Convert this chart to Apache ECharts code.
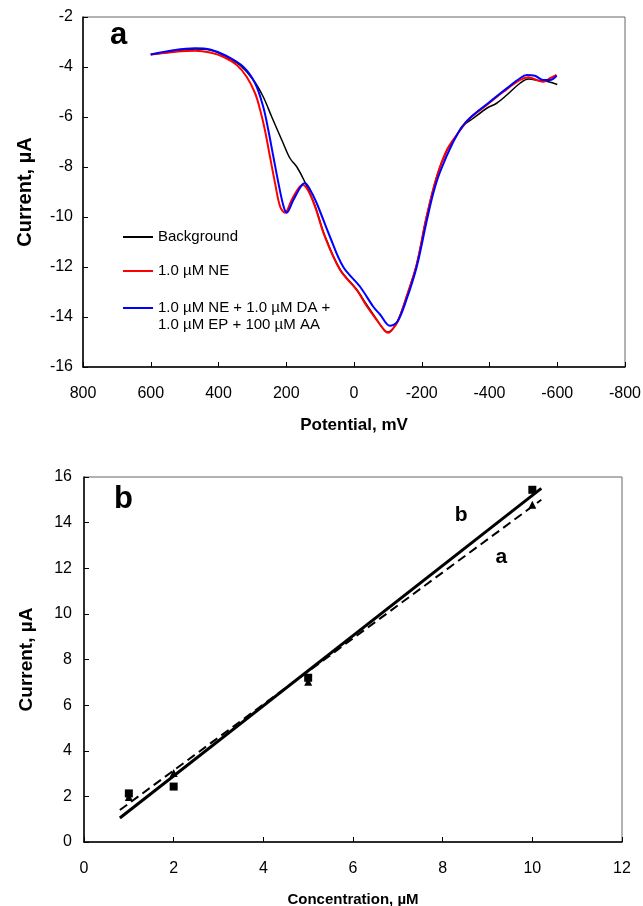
<!DOCTYPE html>
<html>
<head>
<meta charset="utf-8">
<title>NE voltammogram and calibration</title>
<script src="https://cdn.jsdelivr.net/npm/echarts@6.0.0/dist/echarts.min.js"></script>
<style>
	html, body { margin: 0; padding: 0; background: #fff; }
	#chart { width: 643px; height: 906px; }
</style>
</head>
<body>
<div id="chart"></div>
<script>
//////////// 데이터 ////////////
// (a) 전위 (mV) / 전류 (µA)
var bgPotential = [600, 533, 469, 425, 376, 337, 297, 268, 243, 209, 189, 169, 145, 115, 86, 41, -8, -37, -67, -91, -101, -116, -131, -155, -185, -214, -244, -274, -303, -318, -350, -392, -421, -451, -490, -515, -549, -574, -600];
var bgCurrent = [-3.5, -3.39, -3.28, -3.32, -3.59, -3.92, -4.52, -5.19, -5.99, -7.05, -7.65, -7.99, -8.6, -9.55, -10.75, -12.1, -12.9, -13.5, -14.1, -14.55, -14.6, -14.45, -14.1, -13.2, -11.9, -10.0, -8.4, -7.35, -6.75, -6.39, -6.07, -5.65, -5.45, -5.12, -4.65, -4.48, -4.55, -4.59, -4.7];

var nePotential = [600, 533, 469, 425, 386, 346, 317, 292, 277, 263, 248, 233, 218, 204, 184, 164, 151, 135, 115, 86, 41, -8, -37, -67, -91, -101, -116, -131, -155, -185, -214, -244, -274, -303, -342, -392, -441, -490, -515, -539, -559, -579, -598];
var neCurrent = [-3.5, -3.4, -3.35, -3.42, -3.59, -3.92, -4.39, -5.05, -5.72, -6.52, -7.59, -8.65, -9.59, -9.83, -9.32, -8.85, -8.72, -8.95, -9.59, -10.79, -12.12, -12.92, -13.55, -14.12, -14.55, -14.63, -14.45, -14.12, -13.19, -11.9, -10.0, -8.4, -7.32, -6.72, -6.05, -5.52, -4.99, -4.52, -4.41, -4.52, -4.59, -4.45, -4.32];

var mixPotential = [600, 533, 469, 425, 376, 327, 292, 268, 253, 238, 223, 209, 199, 179, 154, 145, 130, 110, 71, 32, -18, -57, -77, -106, -128, -155, -185, -214, -234, -254, -293, -323, -352, -401, -451, -490, -510, -534, -559, -579, -598];
var mixCurrent = [-3.5, -3.33, -3.25, -3.3, -3.56, -3.99, -4.65, -5.59, -6.52, -7.59, -8.65, -9.52, -9.83, -9.32, -8.72, -8.65, -8.9, -9.45, -10.79, -11.99, -12.79, -13.59, -13.9, -14.35, -14.19, -13.3, -12.0, -10.2, -9.05, -8.2, -6.99, -6.32, -5.92, -5.39, -4.85, -4.45, -4.32, -4.35, -4.52, -4.52, -4.35];

var seriesNames = ['Background', '1.0 µM NE', '1.0 µM NE + 1.0 µM DA + 1.0 µM EP + 100 µM AA'];

// (b) 농도 (µM) / 전류 (µA)
var concentration = [1, 2, 5, 10];
var currentB = [2.13, 2.43, 7.2, 15.44];   // ■
var currentA = [1.97, 3.03, 7.02, 14.78];  // ▲

// 검량선 양 끝점
var fitX = [0.8, 10.2];
var fitB = [1.05, 15.5];
var fitA = [1.4, 15.0];

// 검량선 표시 글자
var fitLabelText = ['b', 'a'];
var fitLabelX = [8.41, 9.31];
var fitLabelY = [14.31, 12.49];

//////////// 공통 스타일 ////////////
var FONT = '"Liberation Sans", Arial, Helvetica, sans-serif';

function pairs(xs, ys) {
	var out = [];
	for (var i = 0; i < xs.length; i++) {
		out.push([xs[i], ys[i]]);
	}
	return out;
}

function valueAxis(grid, min, max, interval, opts) {
	var axis = {
		gridIndex: grid,
		type: 'value',
		min: min,
		max: max,
		interval: interval,
		axisLine: { show: true, onZero: false, lineStyle: { color: '#000', width: 1.5 } },
		axisTick: { show: true, inside: true, length: 5, lineStyle: { color: '#000', width: 1 } },
		axisLabel: { color: '#000', fontSize: 16, fontFamily: FONT, margin: 12 },
		splitLine: { show: false },
		nameLocation: 'middle',
		nameTextStyle: { color: '#000', fontWeight: 'bold', fontFamily: FONT, fontSize: 16 }
	};
	for (var k in opts) {
		if (typeof opts[k] === 'object' && axis[k]) {
			for (var j in opts[k]) axis[k][j] = opts[k][j];
		} else {
			axis[k] = opts[k];
		}
	}
	return axis;
}

function lineLegend(name, top, text) {
	return {
		data: [name],
		left: 123,
		top: top,
		padding: 0,
		orient: 'vertical',
		icon: 'rect',
		itemWidth: 30,
		itemHeight: 2,
		itemGap: 5,
		selectedMode: false,
		formatter: function() { return text; },
		textStyle: { color: '#000', fontSize: 15, fontFamily: FONT, lineHeight: 17 }
	};
}

//////////// 차트 ////////////
var chart = echarts.init(document.getElementById('chart'), null, { renderer: 'canvas' });

var option = {
	animation: false,
	backgroundColor: '#fff',
	title: [
		{ text: 'a', left: 110, top: 20, padding: 0, textStyle: { fontSize: 31, fontWeight: 'bold', fontFamily: FONT, color: '#000' } },
		{ text: 'b', left: 114, top: 484, padding: 0, textStyle: { fontSize: 31, fontWeight: 'bold', fontFamily: FONT, color: '#000' } }
	],
	legend: [
		lineLegend(seriesNames[0], 228.5, 'Background'),
		lineLegend(seriesNames[1], 262.5, '1.0 µM NE'),
		lineLegend(seriesNames[2], 282.5, '\n1.0 µM NE + 1.0 µM DA +\n1.0 µM EP + 100 µM AA')
	],
	grid: [
		{ left: 83, top: 17, width: 542, height: 350, show: true, borderColor: '#666', borderWidth: 1, outerBoundsMode: 'none' },
		{ left: 84, top: 477, width: 538, height: 365, show: true, borderColor: '#666', borderWidth: 1, outerBoundsMode: 'none' }
	],
	xAxis: [
		valueAxis(0, -800, 800, 200, {
			inverse: true,
			name: 'Potential, mV',
			nameGap: 50,
			axisLabel: { margin: 19 },
			nameTextStyle: { fontSize: 17 }
		}),
		valueAxis(1, 0, 12, 2, {
			name: 'Concentration, µM',
			nameGap: 50,
			axisLabel: { margin: 19 },
			nameTextStyle: { fontSize: 15 }
		})
	],
	yAxis: [
		valueAxis(0, -16, -2, 2, {
			name: 'Current, µA',
			nameGap: 48,
			axisLabel: { margin: 10 },
			nameTextStyle: { fontSize: 20 }
		}),
		valueAxis(1, 0, 16, 2, {
			name: 'Current, µA',
			nameGap: 48,
			axisLabel: { margin: 12 },
			nameTextStyle: { fontSize: 19 }
		})
	],
	series: [
		// (a) 순환전압전류 곡선
		{
			name: seriesNames[0], type: 'line', xAxisIndex: 0, yAxisIndex: 0,
			data: pairs(bgPotential, bgCurrent), showSymbol: false, symbol: 'none', smooth: 0.35,
			itemStyle: { color: '#000' }, lineStyle: { color: '#000', width: 1.5 }
		},
		{
			name: seriesNames[1], type: 'line', xAxisIndex: 0, yAxisIndex: 0,
			data: pairs(nePotential, neCurrent), showSymbol: false, symbol: 'none', smooth: 0.35,
			itemStyle: { color: '#ff0000' }, lineStyle: { color: '#ff0000', width: 2 }
		},
		{
			name: seriesNames[2], type: 'line', xAxisIndex: 0, yAxisIndex: 0,
			data: pairs(mixPotential, mixCurrent), showSymbol: false, symbol: 'none', smooth: 0.35,
			itemStyle: { color: '#0000ff' }, lineStyle: { color: '#0000ff', width: 2 }
		},
		// (b) 측정점
		{
			name: 'b points', type: 'scatter', xAxisIndex: 1, yAxisIndex: 1,
			data: pairs(concentration, currentB), symbol: 'rect', symbolSize: 8,
			itemStyle: { color: '#000', opacity: 1 }
		},
		{
			name: 'a points', type: 'scatter', xAxisIndex: 1, yAxisIndex: 1,
			data: pairs(concentration, currentA), symbol: 'triangle', symbolSize: 8,
			itemStyle: { color: '#000', opacity: 1 }
		},
		// (b) 검량선
		{
			name: 'fit b', type: 'line', xAxisIndex: 1, yAxisIndex: 1,
			data: pairs(fitX, fitB), showSymbol: false, symbol: 'none',
			lineStyle: { color: '#000', width: 3 }
		},
		{
			name: 'fit a', type: 'line', xAxisIndex: 1, yAxisIndex: 1,
			data: pairs(fitX, fitA), showSymbol: false, symbol: 'none',
			lineStyle: { color: '#000', width: 2, type: [9, 5] }
		},
		{
			name: 'fit labels', type: 'scatter', xAxisIndex: 1, yAxisIndex: 1,
			symbolSize: 0,
			itemStyle: { opacity: 1 },
			data: fitLabelText.map(function(t, i) {
				return { value: [fitLabelX[i], fitLabelY[i]], name: t };
			}),
			label: {
				show: true, position: 'inside', formatter: '{b}', opacity: 1,
				textBorderWidth: 0,
				color: '#000', fontSize: 21, fontWeight: 'bold', fontFamily: FONT
			}
		}
	]
};

chart.setOption(option);
</script>
</body>
</html>
